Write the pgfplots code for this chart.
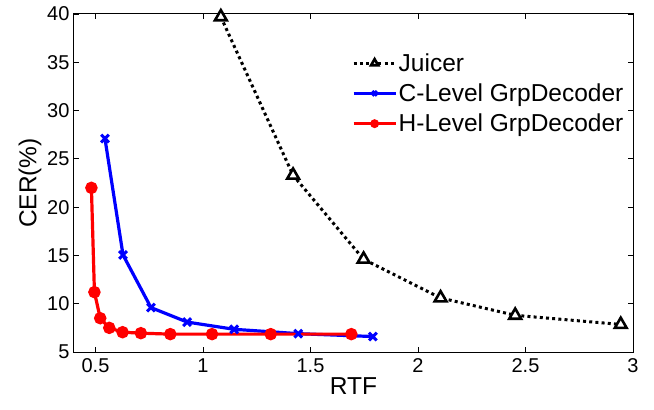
\documentclass[border=0pt]{standalone}
\usepackage{pgfplots}
\pgfplotsset{compat=1.18}
\usepackage{fontspec}
\setmainfont{Liberation Sans}
\begin{document}
\begin{tikzpicture}
\path[use as bounding box] (-74bp,-58bp) rectangle (580bp,352bp);
\begin{axis}[
  at={(0,0)}, anchor=south west,
  scale only axis, width=559bp, height=338bp,
  xmin=0.4, xmax=3, ymin=5, ymax=40,
  xtick={0.5,1,1.5,2,2.5,3},
  ytick={5,10,15,20,25,30,35,40},
  xticklabels={0.5,1,1.5,2,2.5,3},
  tick align=inside, major tick length=5bp,
  tick style={black, line width=0.8bp},
  axis line style={black, line width=1bp},
  /pgf/number format/assume math mode=true,
  tick label style={font=\fontsize{20bp}{22bp}\selectfont},
  xticklabel style={yshift=-3bp},
  yticklabel style={xshift=-1bp},
  label style={font=\fontsize{24.5bp}{26bp}\selectfont},
  xlabel={RTF},
  ylabel={CER(\%)},
  xlabel style={yshift=2bp},
  ylabel style={yshift=-1bp},
  legend style={draw=none, fill=none, at={(0.497,0.888)}, anchor=north west,
    font=\fontsize{24.5bp}{26bp}\selectfont, row sep=8bp, inner sep=0pt,
    nodes={inner sep=1.5bp}},
  legend cell align=left,
  legend image code/.code={\draw[#1,mark=none] plot coordinates {(0bp,0bp) (42bp,0bp)};
    \draw[#1,only marks,every mark/.append style={scale=0.6}] plot coordinates {(21bp,0bp)};},
]
\addplot[black, line width=3bp, dash pattern=on 3bp off 3.2bp,
  mark=triangle*, mark size=6.8bp,
  mark options={solid, fill=white, draw=black, line width=2.6bp}]
  coordinates {(1.083,39.7) (1.419,23.3) (1.747,14.6) (2.105,10.6) (2.452,8.8) (2.943,7.85)};
\addlegendentry{Juicer}
\addplot[blue, line width=3.2bp, mark=x, mark size=5.5bp,
  mark options={solid, line width=3bp}]
  coordinates {(0.544,27.1) (0.628,15.05) (0.758,9.6) (0.926,8.1) (1.145,7.35) (1.443,6.9) (1.79,6.6)};
\addlegendentry{C-Level GrpDecoder}
\addplot[red, line width=3.2bp, mark=*, mark size=4.6bp,
  mark options={solid, fill=red, draw=red}]
  coordinates {(0.481,22.0) (0.495,11.2) (0.522,8.5) (0.564,7.5) (0.626,7.05) (0.711,6.95) (0.848,6.85) (1.042,6.85) (1.315,6.85) (1.69,6.85)};
\addlegendentry{H-Level GrpDecoder}
\end{axis}
\end{tikzpicture}
\end{document}
